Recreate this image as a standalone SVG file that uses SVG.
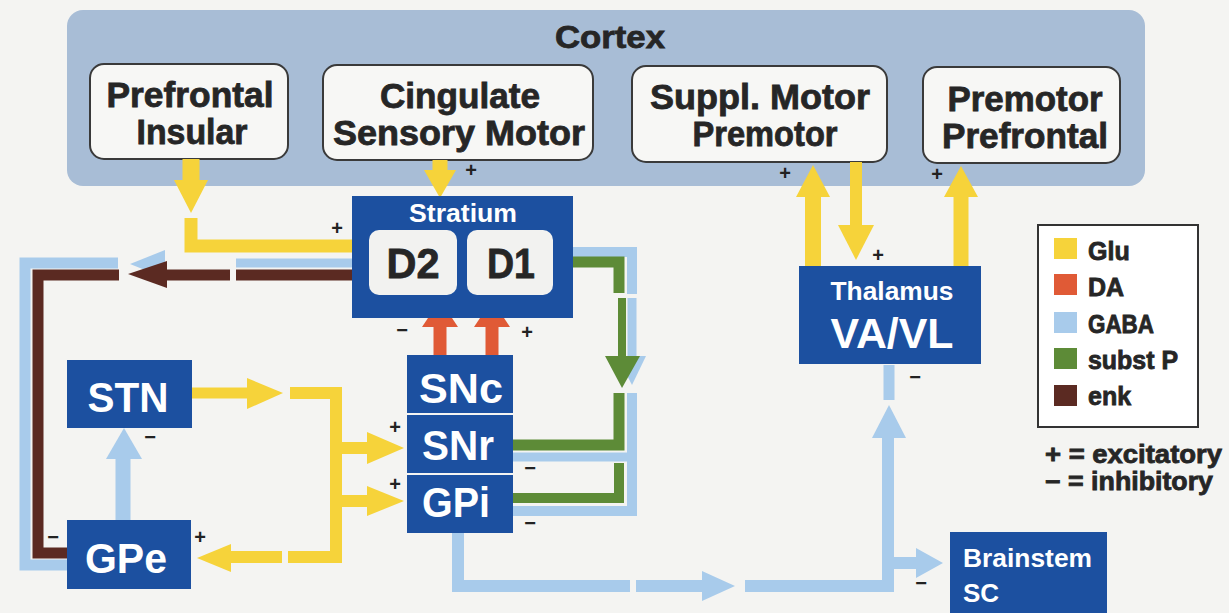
<svg xmlns="http://www.w3.org/2000/svg" width="1229" height="613" viewBox="0 0 1229 613">
<defs>
<style>
.t{font-family:"Liberation Sans",Arial,sans-serif;font-weight:bold}
.dk{fill:#262626;stroke:#262626;stroke-width:0.8}
.wt{fill:#ffffff}
.box{fill:#1c50a0}
.wb{fill:#f7f7f5;stroke:#3a3a3a;stroke-width:2}
.sg{font-family:"Liberation Sans",Arial,sans-serif;font-weight:bold;font-size:20px;fill:#222;text-anchor:middle}
.y{stroke:#f6d33a;fill:none}
.yf{fill:#f6d33a}
.b{stroke:#a8cbeb;fill:none}
.bf{fill:#a8cbeb}
.g{stroke:#5d8b37;fill:none}
.gf{fill:#5d8b37}
.br{stroke:#5b2a22;fill:none}
.brf{fill:#5b2a22}
.of{fill:#e05a36}
.o{stroke:#e05a36;fill:none}
</style>
</defs>
<rect width="1229" height="613" fill="#f4f4f2"/>

<g id="cortex">
<rect x="67" y="10" width="1078" height="176" rx="16" fill="#a8bdd6"/>
<text class="t dk" x="610" y="48" font-size="32" text-anchor="middle" textLength="110" lengthAdjust="spacingAndGlyphs">Cortex</text>
</g>
<g id="prefrontal-insular">
<rect class="wb" x="90" y="64" width="198" height="95" rx="14"/>
<text class="t dk" x="190" y="107" font-size="35" text-anchor="middle" textLength="167" lengthAdjust="spacingAndGlyphs">Prefrontal</text>
<text class="t dk" x="192" y="144" font-size="35" text-anchor="middle" textLength="111" lengthAdjust="spacingAndGlyphs">Insular</text>
</g>
<g id="cingulate">
<rect class="wb" x="323" y="65" width="270" height="95" rx="14"/>
<text class="t dk" x="460" y="108" font-size="35" text-anchor="middle" textLength="160" lengthAdjust="spacingAndGlyphs">Cingulate</text>
<text class="t dk" x="459" y="145" font-size="35" text-anchor="middle" textLength="252" lengthAdjust="spacingAndGlyphs">Sensory Motor</text>
</g>
<g id="suppl-motor">
<rect class="wb" x="632" y="66" width="255" height="96" rx="14"/>
<text class="t dk" x="760" y="109" font-size="35" text-anchor="middle" textLength="220" lengthAdjust="spacingAndGlyphs">Suppl. Motor</text>
<text class="t dk" x="765" y="146" font-size="35" text-anchor="middle" textLength="145" lengthAdjust="spacingAndGlyphs">Premotor</text>
</g>
<g id="premotor-prefrontal">
<rect class="wb" x="923" y="67" width="197" height="96" rx="14"/>
<text class="t dk" x="1025" y="111" font-size="35" text-anchor="middle" textLength="155" lengthAdjust="spacingAndGlyphs">Premotor</text>
<text class="t dk" x="1025" y="148" font-size="35" text-anchor="middle" textLength="166" lengthAdjust="spacingAndGlyphs">Prefrontal</text>
</g>

<g id="connectors">
<path class="y" stroke-width="17" d="M191 159 V181"/>
<polygon class="yf" points="174,180 208,180 191,213"/>
<path class="y" stroke-width="13" d="M191 218 V246 H370"/>
<path class="y" stroke-width="15" d="M440 160 V172"/>
<polygon class="yf" points="424,170 456,170 440,198"/>
<path class="b" stroke-width="9" d="M370 263 H236"/>
<polygon class="bf" points="130,264 165,250 165,278"/>
<path class="b" stroke-width="11" d="M118 263 H25 V565 H68"/>
<path class="br" stroke-width="11" d="M370 275 H236"/>
<path class="br" stroke-width="11" d="M230 275 H164"/>
<polygon class="brf" points="128,274 167,261 167,288"/>
<path class="br" stroke-width="11" d="M119 275 H38 V553 H68"/>
<path class="o" stroke-width="13" d="M440 356 V325"/>
<polygon class="of" points="422,327 458,327 440,300"/>
<path class="o" stroke-width="13" d="M492 356 V325"/>
<polygon class="of" points="474,327 510,327 492,300"/>
<path class="b" stroke-width="10" d="M553 252 H632 V294"/>
<path class="g" stroke-width="11" d="M553 262 H619 V293"/>
<path class="b" stroke-width="9" d="M632 298 V358"/>
<polygon class="bf" points="617,356 646,356 632,385"/>
<path class="g" stroke-width="8" d="M622 298 V358"/>
<polygon class="gf" points="605,356 640,356 622,388"/>
<path class="b" stroke-width="10" d="M632 393 V511 H513"/>
<path class="b" stroke-width="9" d="M632 457 H513"/>
<path class="g" stroke-width="11" d="M619 393 V445 H513"/>
<path class="g" stroke-width="10" d="M619 463 V498 H513"/>
<path class="y" stroke-width="11" d="M192 393 H250"/>
<polygon class="yf" points="247,378 247,409 283,393"/>
<path class="y" stroke-width="12" d="M290 393 H336 V557 H288"/>
<path class="y" stroke-width="12" d="M282 557 H228"/>
<polygon class="yf" points="231,544 231,572 197,558"/>
<path class="y" stroke-width="12" d="M336 448 H370"/>
<polygon class="yf" points="367,432 367,464 404,448"/>
<path class="y" stroke-width="12" d="M336 501 H370"/>
<polygon class="yf" points="367,486 367,516 404,501"/>
<path class="b" stroke-width="15" d="M123 520 V456"/>
<polygon class="bf" points="106,459 142,459 124,428"/>
<path class="b" stroke-width="12" d="M458 533 V586 H630"/>
<path class="b" stroke-width="12" d="M636 586 H704"/>
<polygon class="bf" points="702,571 702,601 735,586"/>
<path class="b" stroke-width="12" d="M745 586 H888 V435"/>
<polygon class="bf" points="872,438 906,438 889,405"/>
<path class="b" stroke-width="11" d="M889 365 V400"/>
<path class="b" stroke-width="12" d="M888 563 H918"/>
<polygon class="bf" points="916,548 916,578 943,563"/>
<path class="y" stroke-width="16" d="M813 266 V194"/>
<polygon class="yf" points="796,197 830,197 813,165"/>
<path class="y" stroke-width="12" d="M856 162 V228"/>
<polygon class="yf" points="838,225 874,225 856,260"/>
<path class="y" stroke-width="15" d="M961 266 V194"/>
<polygon class="yf" points="944,197 978,197 961,166"/>
</g>

<g id="stratium">
<rect class="box" x="352" y="196" width="221" height="122"/>
<text class="t wt" x="463" y="222" font-size="25" text-anchor="middle" textLength="108" lengthAdjust="spacingAndGlyphs">Stratium</text>
</g>
<g id="d2">
<rect x="369" y="230" width="88" height="65" rx="10" fill="#f2f2f0"/>
<text class="t dk" x="413" y="278" font-size="42" text-anchor="middle" textLength="53" lengthAdjust="spacingAndGlyphs">D2</text>
</g>
<g id="d1">
<rect x="467" y="230" width="86" height="65" rx="10" fill="#f2f2f0"/>
<text class="t dk" x="511" y="278" font-size="42" text-anchor="middle" textLength="48" lengthAdjust="spacingAndGlyphs">D1</text>
</g>
<g id="snc">
<rect class="box" x="407" y="355" width="106" height="58"/>
<text class="t wt" x="461" y="403" font-size="43" text-anchor="middle" textLength="84" lengthAdjust="spacingAndGlyphs">SNc</text>
</g>
<g id="snr">
<rect class="box" x="407" y="415" width="106" height="58"/>
<text class="t wt" x="458" y="460" font-size="43" text-anchor="middle" textLength="72" lengthAdjust="spacingAndGlyphs">SNr</text>
</g>
<g id="gpi">
<rect class="box" x="407" y="475" width="106" height="58"/>
<text class="t wt" x="456" y="517" font-size="43" text-anchor="middle" textLength="68" lengthAdjust="spacingAndGlyphs">GPi</text>
</g>
<g id="stn">
<rect class="box" x="67" y="360" width="125" height="68"/>
<text class="t wt" x="128" y="412" font-size="42" text-anchor="middle" textLength="81" lengthAdjust="spacingAndGlyphs">STN</text>
</g>
<g id="gpe">
<rect class="box" x="67" y="520" width="124" height="69"/>
<text class="t wt" x="126" y="573" font-size="42" text-anchor="middle" textLength="82" lengthAdjust="spacingAndGlyphs">GPe</text>
</g>
<g id="thalamus">
<rect class="box" x="799" y="266" width="182" height="98"/>
<text class="t wt" x="892" y="300" font-size="26" text-anchor="middle" textLength="123" lengthAdjust="spacingAndGlyphs">Thalamus</text>
<text class="t wt" x="892" y="348" font-size="42" text-anchor="middle" textLength="123" lengthAdjust="spacingAndGlyphs">VA/VL</text>
</g>
<g id="brainstem">
<rect class="box" x="950" y="532" width="157" height="81"/>
<text class="t wt" x="963" y="567" font-size="26" textLength="129" lengthAdjust="spacingAndGlyphs">Brainstem</text>
<text class="t wt" x="963" y="602" font-size="26">SC</text>
</g>

<g id="signs">
<text class="sg" x="337" y="235">+</text>
<text class="sg" x="471" y="177">+</text>
<text class="sg" x="402" y="337">−</text>
<text class="sg" x="527" y="339">+</text>
<text class="sg" x="395" y="434">+</text>
<text class="sg" x="395" y="491">+</text>
<text class="sg" x="530" y="475">−</text>
<text class="sg" x="530" y="530">−</text>
<text class="sg" x="150" y="444">−</text>
<text class="sg" x="53" y="544">−</text>
<text class="sg" x="200" y="544">+</text>
<text class="sg" x="785" y="180">+</text>
<text class="sg" x="937" y="181">+</text>
<text class="sg" x="878" y="262">+</text>
<text class="sg" x="915" y="384">−</text>
<text class="sg" x="921" y="590">−</text>
</g>

<g id="legend">
<rect x="1038" y="225" width="160" height="202" fill="#ffffff" stroke="#333" stroke-width="2"/>
<rect x="1054" y="238" width="23" height="21" fill="#f6d33a"/>
<text class="t dk" x="1088" y="260" font-size="25">Glu</text>
<rect x="1054" y="274" width="23" height="21" fill="#e05a36"/>
<text class="t dk" x="1088" y="296" font-size="25">DA</text>
<rect x="1054" y="312" width="23" height="21" fill="#a8cbeb"/>
<text class="t dk" x="1088" y="333" font-size="25" textLength="66" lengthAdjust="spacingAndGlyphs">GABA</text>
<rect x="1054" y="348" width="23" height="21" fill="#5d8b37"/>
<text class="t dk" x="1088" y="369" font-size="25" textLength="90" lengthAdjust="spacingAndGlyphs">subst P</text>
<rect x="1054" y="385" width="23" height="21" fill="#5b2a22"/>
<text class="t dk" x="1088" y="405" font-size="25">enk</text>
<text class="t dk" x="1045" y="463" font-size="25" textLength="177" lengthAdjust="spacingAndGlyphs">+ = excitatory</text>
<text class="t dk" x="1045" y="490" font-size="25" textLength="168" lengthAdjust="spacingAndGlyphs">− = inhibitory</text>
</g>
</svg>
